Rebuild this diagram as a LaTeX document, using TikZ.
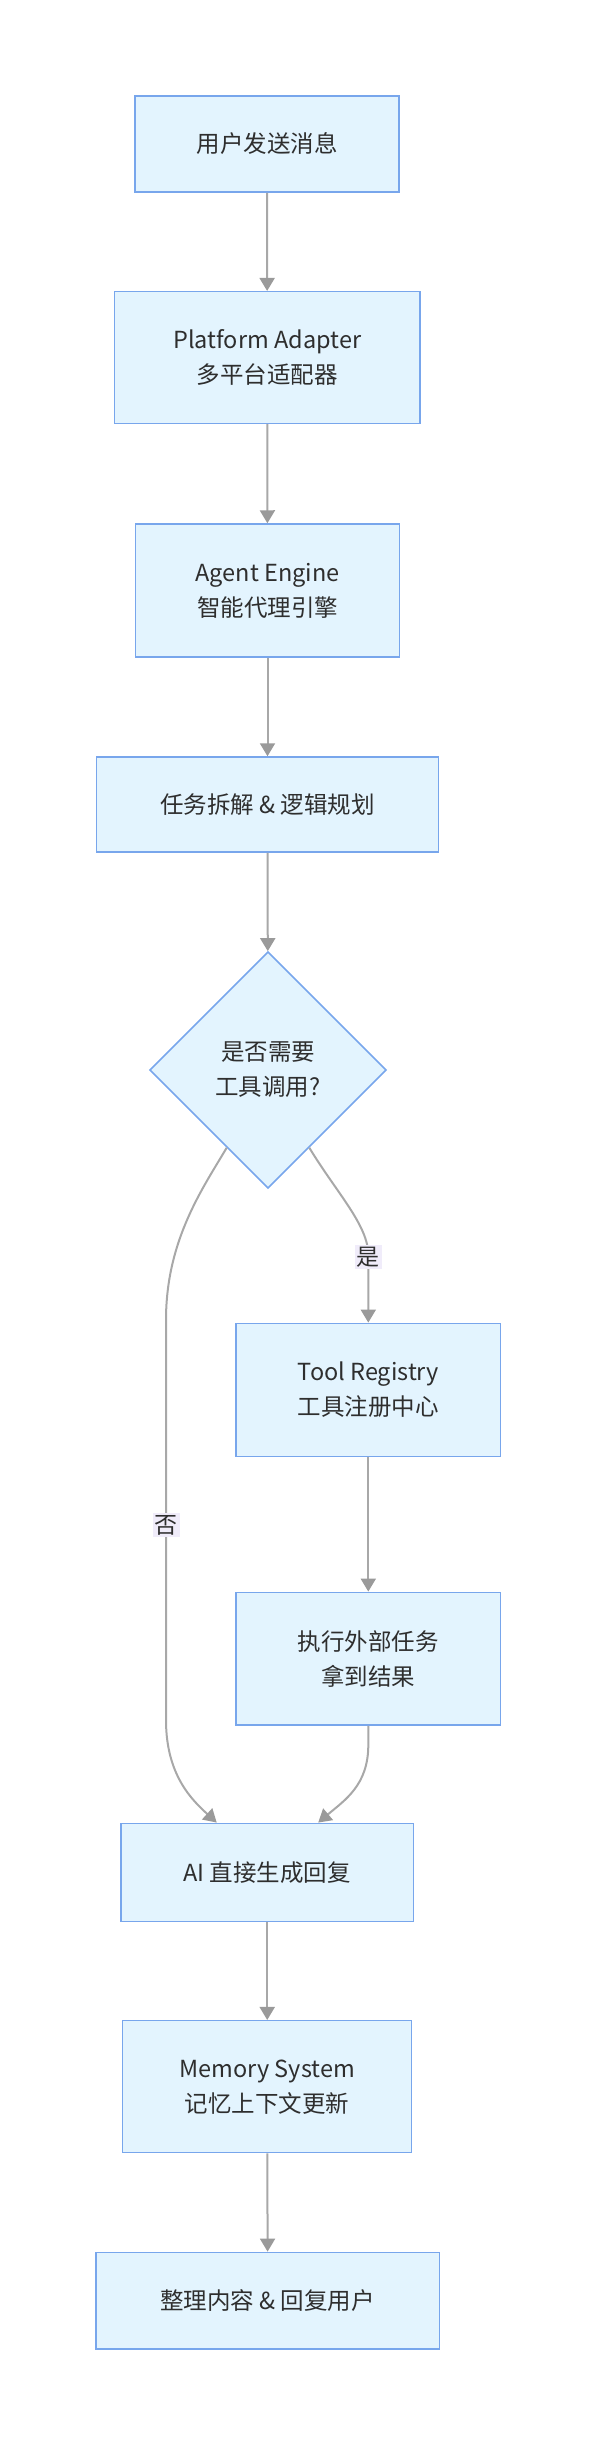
\documentclass[tikz,border=0pt]{standalone}
\usepackage{fontspec}
\setmainfont{Noto Sans CJK SC}
\usetikzlibrary{shapes.geometric,arrows.meta}
\definecolor{boxfill}{HTML}{E3F4FE}
\definecolor{boxline}{HTML}{78A6EC}
\definecolor{edgeline}{HTML}{A8A8A8}
\definecolor{tipfill}{HTML}{9A9A9A}
\definecolor{lblfill}{HTML}{F0ECFA}
\definecolor{txt}{HTML}{2E2E2E}
\begin{document}
\begin{tikzpicture}[x=1pt,y=-1pt,
  box/.style={draw=boxline, fill=boxfill, line width=1.5pt, inner sep=0pt, align=center,
    text=txt, font=\fontsize{23.5}{35}\selectfont},
  decision/.style={box, shape=diamond, aspect=1, minimum width=236.6pt, minimum height=236.6pt},
  edge/.style={draw=edgeline, line width=2pt, -{Triangle[width=15pt,length=13pt,color=tipfill]}},
  lbl/.style={fill=lblfill, text=txt, inner sep=2pt, font=\fontsize{23}{26}\selectfont}
]
\useasboundingbox (0,0) rectangle (596,2444);
\node[box, minimum width=264pt, minimum height=96pt] (b1) at (267,144) {用户发送消息};
\node[box, minimum width=305.7pt, minimum height=131.6pt] (b2) at (267.2,357.5) {Platform Adapter\\多平台适配器};
\node[box, minimum width=263.7pt, minimum height=133pt] (b3) at (267.5,590.5) {Agent Engine\\智能代理引擎};
\node[box, minimum width=341.7pt, minimum height=95pt] (b4) at (267.5,804.5) {任务拆解 \& 逻辑规划};
\node[decision] (dec) at (268,1070) {是否需要\\工具调用?};
\node[box, minimum width=264.7pt, minimum height=133.4pt] (tool) at (368.3,1390) {Tool Registry\\工具注册中心};
\node[box, minimum width=264.7pt, minimum height=132.7pt] (exec) at (368.3,1658.7) {执行外部任务\\拿到结果};
\node[box, minimum width=292.3pt, minimum height=98pt] (ai) at (267.2,1872.3) {AI 直接生成回复};
\node[box, minimum width=289pt, minimum height=132pt] (mem) at (267.2,2086.7) {Memory System\\记忆上下文更新};
\node[box, minimum width=343.3pt, minimum height=96.7pt] (last) at (267.7,2300.7) {整理内容 \& 回复用户};

\draw[edge] (b1) -- (b2);
\draw[edge] (b2) -- (b3);
\draw[edge] (b3) -- (b4);
\draw[edge] (b4) -- (dec);
\draw[edge] (dec.-62) .. controls (336,1192) and (368.3,1225) .. (368.3,1255) -- (tool.north);
\draw[edge] (dec.-118) .. controls (203,1188) and (166,1240) .. (166,1320) -- (166,1720)
  .. controls (166,1775) and (192,1800) .. ([xshift=-50.5pt]ai.north);
\draw[edge] (tool) -- (exec);
\draw[edge] (exec.south) -- (368.3,1745) .. controls (368.3,1785) and (345,1800) .. ([xshift=51pt]ai.north);
\draw[edge] (ai) -- (mem);
\draw[edge] (mem) -- (last);

\node[lbl] (lyes) at (368.3,1257) {是};
\node[lbl] (lno) at (166,1525) {否};
\end{tikzpicture}
\end{document}
